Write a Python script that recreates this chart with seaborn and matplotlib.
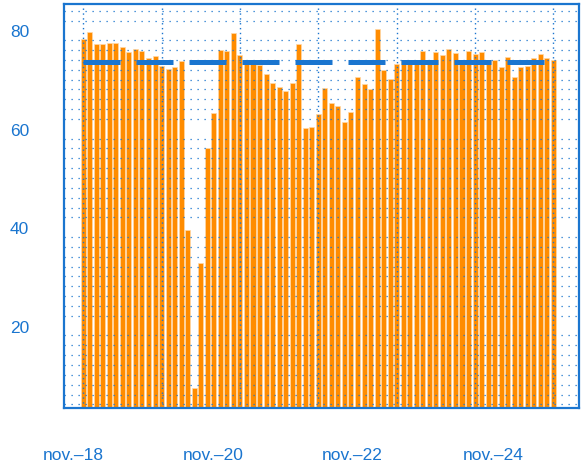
import pandas as pd
import seaborn as sns
import matplotlib.pyplot as plt
from matplotlib.ticker import FixedLocator

sns.set_theme(style="white")
plt.rcParams['font.family'] = ['Liberation Sans', 'DejaVu Sans']

# monthly values, nov-2018 .. nov-2024
months = pd.date_range("2018-11-01", "2024-11-01", freq="MS").strftime("%Y-%m").tolist()
values = [78.3, 79.7, 77.2, 77.2, 77.5, 77.5, 76.7, 75.6, 76.3, 75.8, 74.4, 74.8,
          72.7, 72.1, 72.6, 73.7, 39.5, 7.3, 32.8, 56.1, 63.3, 76.1, 75.9, 79.5,
          74.9, 73.5, 73.2, 72.9, 71.2, 69.2, 68.5, 67.6, 69.4, 77.2, 60.1, 60.4,
          63.1, 68.3, 65.2, 64.7, 61.4, 63.5, 70.5, 69.0, 68.1, 80.3, 72.0, 70.2,
          73.2, 73.8, 73.8, 74.0, 75.8, 73.8, 75.7, 74.9, 76.3, 75.4, 73.8, 75.9,
          75.2, 75.6, 73.7, 73.9, 72.6, 74.6, 70.6, 72.5, 72.7, 74.4, 75.2, 74.4,
          74.0]
target = 73.6
tick_labels = ["nov.\u201318", "nov.\u201320", "nov.\u201322", "nov.\u201324"]

blue = "#1a75cf"
orange = "#ff8c00"

data = pd.DataFrame({"month": months, "value": values})

fig, ax = plt.subplots(figsize=(5.87, 4.77), dpi=100)
fig.subplots_adjust(left=0.109, right=0.987, top=0.99, bottom=0.143)

sns.barplot(data=data, x="month", y="value", color=orange, saturation=1,
            width=0.77, edgecolor="#ffd9a8", linewidth=0.5, ax=ax, zorder=2)

ax.plot(range(len(months)), [target] * len(months), color=blue, lw=3.6,
        linestyle=(0, (7.4, 3.2)), zorder=3)

ax.set_xlim(-2.94, 75.97)
ax.set_ylim(3.3, 85.4)

# yearly dotted grid lines (minor), labels every two years
ax.xaxis.set_minor_locator(FixedLocator(range(0, len(months), 12)))
ax.set_xticks([-1.56, 19.9, 41.2, 62.8])
ax.set_xticklabels(tick_labels)
ax.set_yticks([20, 40, 60, 80])
ax.yaxis.set_minor_locator(FixedLocator(range(4, 86, 2)))

ax.set_axisbelow(False)
ax.grid(False)
ax.grid(which="minor", axis="x", color=blue, lw=1.0, linestyle=(0, (1, 2.5)))
ax.grid(which="minor", axis="y", color=blue, lw=0.9, linestyle=(0, (1, 4.6)))

ax.tick_params(which="both", length=0)
ax.tick_params(axis="x", pad=28, labelsize=12.5, labelcolor=blue)
ax.tick_params(axis="y", pad=25, labelsize=12.5, labelcolor=blue)
for sp in ax.spines.values():
    sp.set_color(blue)
    sp.set_linewidth(1.6)
ax.set(xlabel="", ylabel="")

fig.savefig("out.png", dpi=100)
